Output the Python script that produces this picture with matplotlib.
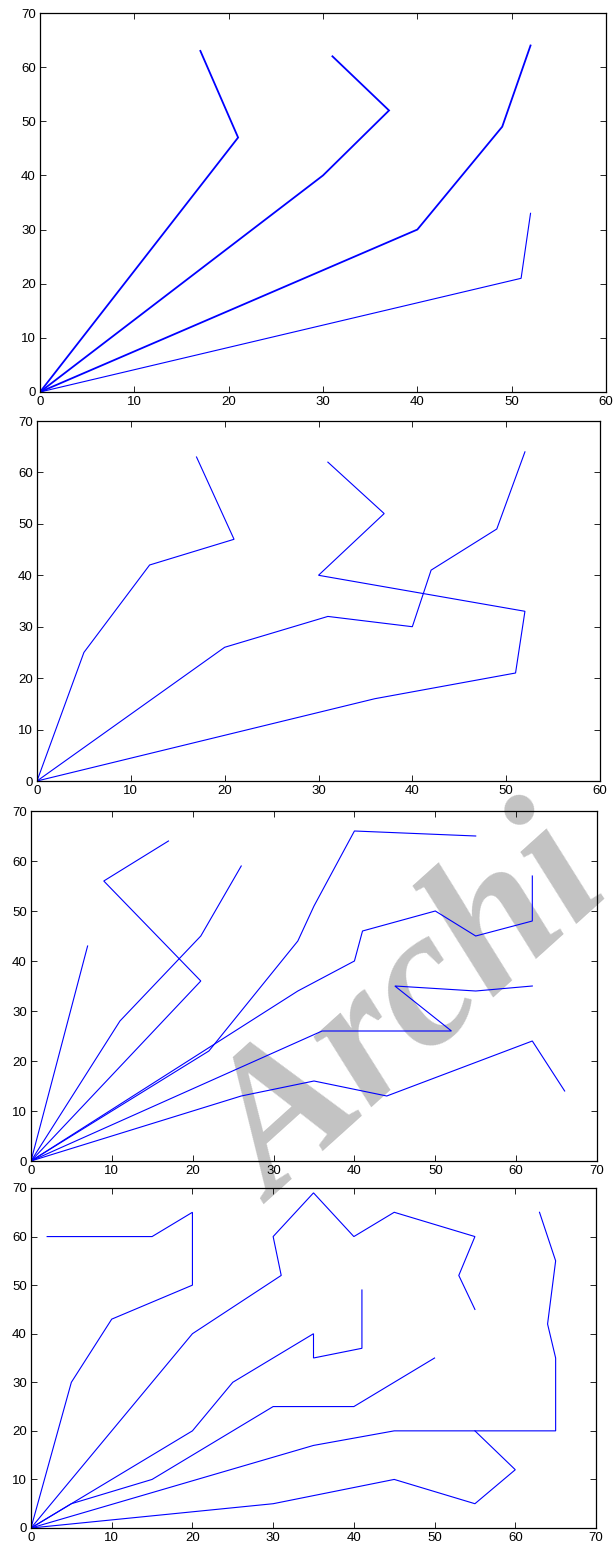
import matplotlib
matplotlib.use("Agg")
import matplotlib.pyplot as plt

plt.rcParams['font.family'] = ['Liberation Sans', 'DejaVu Sans']

W, H = 613, 1544

# panel 1 (x 0-60)
p1_a_x = [0, 21, 17]
p1_a_y = [0, 47, 63]
p1_b_x = [0, 30, 37, 31]
p1_b_y = [0, 40, 52, 62]
p1_c_x = [0, 40, 49, 52]
p1_c_y = [0, 30, 49, 64]
p1_d_x = [0, 51, 52]
p1_d_y = [0, 21, 33]

# panel 2 (x 0-60)
p2_a_x = [0, 5, 12, 21, 17]
p2_a_y = [0, 25, 42, 47, 63]
p2_b_x = [0, 20, 31, 40, 42, 49, 52]
p2_b_y = [0, 26, 32, 30, 41, 49, 64]
p2_c_x = [0, 36, 51, 52, 30, 37, 31]
p2_c_y = [0, 16, 21, 33, 40, 52, 62]

# panel 3 (x 0-70)
p3_a_x = [0, 7]
p3_a_y = [0, 43]
p3_b_x = [0, 11, 21, 26]
p3_b_y = [0, 28, 45, 59]
p3_c_x = [0, 21, 9, 17]
p3_c_y = [0, 36, 56, 64]
p3_d_x = [0, 22, 33, 35, 40, 55]
p3_d_y = [0, 22, 44, 51, 66, 65]
p3_e_x = [0, 33, 40, 41, 50, 55, 62, 62]
p3_e_y = [0, 34, 40, 46, 50, 45, 48, 57]
p3_f_x = [0, 36, 52, 45, 55, 62]
p3_f_y = [0, 26, 26, 35, 34, 35]
p3_g_x = [0, 26, 35, 44, 62, 66]
p3_g_y = [0, 13, 16, 13, 24, 14]

# panel 4 (x 0-70)
p4_a_x = [0, 5, 10, 20, 20, 15, 2]
p4_a_y = [0, 30, 43, 50, 65, 60, 60]
p4_b_x = [0, 20, 31, 30, 35, 40, 45, 55, 53, 55]
p4_b_y = [0, 40, 52, 60, 69, 60, 65, 60, 52, 45]
p4_c_x = [0, 5, 20, 25, 35, 35, 41, 41]
p4_c_y = [0, 5, 20, 30, 40, 35, 37, 49]
p4_d_x = [0, 5, 15, 30, 40, 50]
p4_d_y = [0, 5, 10, 25, 25, 35]
p4_e_x = [0, 35, 45, 65, 65, 64, 65, 63]
p4_e_y = [0, 17, 20, 20, 35, 42, 55, 65]
p4_f_x = [0, 30, 45, 55, 60, 55]
p4_f_y = [0, 5, 10, 5, 12, 20]

panels = [
    ((40, 13, 606, 392), 60, [(p1_a_x, p1_a_y, 1.3), (p1_b_x, p1_b_y, 1.3),
                              (p1_c_x, p1_c_y, 1.3), (p1_d_x, p1_d_y, 0.8)]),
    ((37, 421, 600, 781), 60, [(p2_a_x, p2_a_y, 0.8), (p2_b_x, p2_b_y, 0.8),
                               (p2_c_x, p2_c_y, 0.8)]),
    ((31, 811, 597, 1161), 70, [(p3_a_x, p3_a_y, 0.8), (p3_b_x, p3_b_y, 0.8),
                                (p3_c_x, p3_c_y, 0.8), (p3_d_x, p3_d_y, 0.8),
                                (p3_e_x, p3_e_y, 0.8), (p3_f_x, p3_f_y, 0.8),
                                (p3_g_x, p3_g_y, 0.8)]),
    ((31, 1188, 596, 1528), 70, [(p4_a_x, p4_a_y, 0.8), (p4_b_x, p4_b_y, 0.8),
                                 (p4_c_x, p4_c_y, 0.8), (p4_d_x, p4_d_y, 0.8),
                                 (p4_e_x, p4_e_y, 0.8), (p4_f_x, p4_f_y, 0.8)]),
]

fig = plt.figure(figsize=(W / 100, H / 100), dpi=100, facecolor='white')

# watermark behind the axes
fig.text(274 / W, 1 - 1205 / H, "Archi", rotation=42, rotation_mode='anchor',
         ha='left', va='baseline', fontsize=142, fontweight='bold', style='italic',
         family='Liberation Serif', color='#c3c3c3', zorder=-1)

for (l, t, r, b), xmax, lines in panels:
    ax = fig.add_axes([l / W, 1 - b / H, (r - l) / W, (b - t) / H])
    ax.set_facecolor('none')
    for xs, ys, lw in lines:
        ax.plot(xs, ys, color='#0000ff', lw=lw, solid_joinstyle='miter')
    ax.set_xlim(0, xmax)
    ax.set_ylim(0, 70)
    ax.set_xticks(range(0, xmax + 1, 10))
    ax.set_yticks(range(0, 71, 10))
    ax.tick_params(direction='in', length=4, width=0.6, top=True, right=True,
                   labelsize=9.5, pad=3, colors='black')
    for s in ax.spines.values():
        s.set_linewidth(0.9)

fig.savefig("out.png", dpi=100, facecolor='white')
